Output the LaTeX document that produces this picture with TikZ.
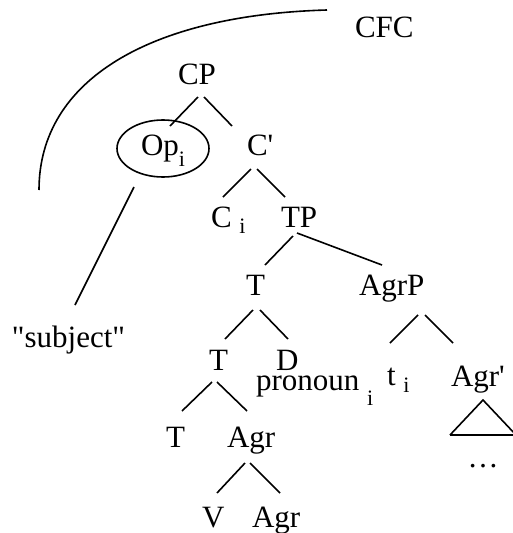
\documentclass[tikz,border=0pt]{standalone}
\usepackage{fontspec}
\setmainfont{Liberation Serif}[Ligatures=TeXOff]
\newcommand{\sbs}[2]{\raisebox{-#1pt}{\fontsize{22}{22}\selectfont #2}}
\begin{document}
\begin{tikzpicture}[x=1pt,y=-1pt,
  lbl/.style={anchor=base west,inner sep=0pt,outer sep=0pt,font=\fontsize{31}{36}\selectfont},
  br/.style={line width=1.6pt}]
\useasboundingbox (0,0) rectangle (513,533);
% labels
\node[lbl] (CFC) at (355,37) {CFC};
\node[lbl] (CP) at (178,84) {CP};
\node[lbl] (Op) at (141,155) {Op\sbs{11}{i}};
\node[lbl] (Cbar) at (247,155) {C'};
\node[lbl] (Ci) at (211,227) {C \sbs{6}{i}};
\node[lbl] (TP) at (281,227) {TP};
\node[lbl] (T4) at (246,295) {T};
\node[lbl] (AgrP) at (359,295) {AgrP};
\node[lbl] (subj) at (12,347) {"subject"};
\node[lbl] (T5) at (209,370) {T};
\node[lbl] (D) at (276,370) {D};
\node[lbl] (pron) at (256,390) {pronoun \sbs{15}{i}};
\node[lbl] (t) at (387,385) {t \sbs{7}{i}};
\node[lbl] (Agrbar) at (451,386) {Agr'};
\node[lbl] (T6) at (166,447) {T};
\node[lbl] (Agr6) at (227,447) {Agr};
\node[lbl] (V) at (202,527) {V};
\node[lbl] (Agr7) at (252,527) {Agr};
\node[lbl,anchor=base] (dots) at (483,467) {\ldots};
% ellipse around Op
\draw[br] (163,148.5) ellipse [x radius=46, y radius=28.5];
% CFC arc
\coordinate (arcA) at (327,10);
\coordinate (arcB) at (39,190);
\draw[br] (arcA) .. controls (150,15) and (39,80) .. (arcB);
% branch end points
\coordinate (a1) at (198,97);  \coordinate (b1) at (170,126);
\coordinate (a2) at (204,97);  \coordinate (b2) at (232,126);
\coordinate (a3) at (251,169); \coordinate (b3) at (223,197);
\coordinate (a4) at (257,169); \coordinate (b4) at (285,197);
\coordinate (a5) at (293,236); \coordinate (b5) at (265,265);
\coordinate (a6) at (297,233); \coordinate (b6) at (382,265);
\coordinate (a7) at (134,187); \coordinate (b7) at (75,305);
\coordinate (a8) at (253,310); \coordinate (b8) at (225,339);
\coordinate (a9) at (260,310); \coordinate (b9) at (288,339);
\coordinate (a10) at (418,315); \coordinate (b10) at (390,343);
\coordinate (a11) at (425,315); \coordinate (b11) at (453,343);
\coordinate (a12) at (212,382); \coordinate (b12) at (182,411);
\coordinate (a13) at (217,382); \coordinate (b13) at (247,411);
\coordinate (a14) at (245,463); \coordinate (b14) at (217,493);
\coordinate (a15) at (250,463); \coordinate (b15) at (280,493);
\foreach \i in {1,...,15} {\draw[br] (a\i) -- (b\i);}
% triangle
\coordinate (ta) at (483,400);
\coordinate (tl) at (450,435);
\coordinate (tr) at (516,435);
\draw[br] (tl) -- (ta) -- (tr) (tl) -- (tr);
\end{tikzpicture}
\end{document}
